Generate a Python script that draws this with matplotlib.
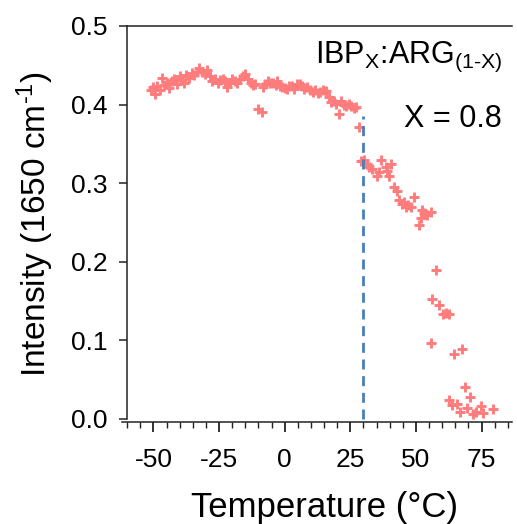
import matplotlib
matplotlib.use("Agg")
import matplotlib.pyplot as plt
from matplotlib.ticker import MultipleLocator, FixedLocator

plt.rcParams['font.family'] = ['Liberation Sans', 'DejaVu Sans']
plt.rcParams['mathtext.fontset'] = 'custom'
plt.rcParams['mathtext.rm'] = 'Liberation Sans'
plt.rcParams['mathtext.it'] = 'Liberation Sans:italic'

# Temperature (°C) and intensity readings
temperature = [
    -51, -50, -49.5, -48.5, -47.5, -46.6, -46, -45, -44, -43, -42, -41, -40, -39,
    -38.5, -37.5, -36.5, -35.5, -34.5, -33.5, -32.5, -31.5, -30.5, -29.5, -28.5,
    -27.6, -26.5, -25.5, -24.5, -23.5, -22.7, -22, -21, -20, -19, -18, -17, -16,
    -15, -14, -13, -12, -11.4, -10, -8.7, -8.3, -7.5, -6.4, -5.5, -4.5, -3.5, -3,
    -1.9, -1, 0, 0.7, 1.5, 2.6, 3.5, 4.5, 5.7, 6.5, 7.5, 8.3, 9.5, 10.6, 11.5,
    12.5, 13.3, 14.5, 15.9, 17, 17.8, 18.8, 19.7, 20.8, 21.6, 22.5, 23.5, 24.5,
    25.4, 26.3, 27.3, 28.4,
    29, 30.3, 31.4, 32.3, 33.3, 35.2, 36, 36.7, 38.6, 39, 39.8, 40.5, 41.7, 42.8,
    43.6, 44.7, 45.5, 46.2, 47, 48, 49.2, 51.1, 51.9, 52.3, 53.2, 54.2, 55.7,
    57.6, 56, 58.7, 60.2, 61.3, 62.5, 55.7, 64.4, 67.4, 68.6, 70.5, 62.5, 63.6,
    65.5, 66.7, 69.3, 71.6, 73, 74.6, 75.4, 79.5,
]
intensity = [
    0.418, 0.422, 0.414, 0.424, 0.419, 0.434, 0.425, 0.427, 0.421, 0.430, 0.432,
    0.426, 0.436, 0.431, 0.428, 0.437, 0.434, 0.440, 0.438, 0.441, 0.446, 0.442,
    0.439, 0.444, 0.436, 0.430, 0.432, 0.428, 0.431, 0.433, 0.430, 0.422, 0.427,
    0.432, 0.430, 0.428, 0.433, 0.436, 0.439, 0.432, 0.428, 0.425, 0.426, 0.394,
    0.390, 0.422, 0.426, 0.430, 0.428, 0.428, 0.425, 0.430, 0.424, 0.422, 0.421,
    0.420, 0.423, 0.424, 0.420, 0.426, 0.426, 0.423, 0.420, 0.422, 0.418, 0.416,
    0.419, 0.415, 0.416, 0.418, 0.417, 0.410, 0.403, 0.405, 0.401, 0.388, 0.404,
    0.400, 0.398, 0.401, 0.398, 0.396, 0.397, 0.372,
    0.328, 0.330, 0.324, 0.320, 0.318, 0.309, 0.314, 0.329, 0.321, 0.315, 0.309,
    0.324, 0.295, 0.290, 0.279, 0.273, 0.276, 0.269, 0.272, 0.270, 0.282, 0.247,
    0.256, 0.266, 0.262, 0.260, 0.263, 0.189, 0.152, 0.145, 0.134, 0.135, 0.134,
    0.096, 0.083, 0.089, 0.040, 0.028, 0.024, 0.018, 0.019, 0.009, 0.014, 0.006,
    0.009, 0.017, 0.008, 0.013,
]
transition_temp = 30
transition_top = 0.385
x_major = [-50, -25, 0, 25, 50, 75]
y_major = [0.0, 0.1, 0.2, 0.3, 0.4, 0.5]

fig = plt.figure(figsize=(5.17, 5.24), dpi=100)
ax = fig.add_axes([122/517, 1 - 422/524, 390/517, 396/524])

ax.plot(temperature, intensity, linestyle='none', marker='+', markersize=7.5,
        markeredgewidth=2.1, color='#FF7C7C')
ax.plot([transition_temp, transition_temp], [0, transition_top], color='#4A7EBB',
        linewidth=2.0, dashes=(3.6, 2.4))

ax.set_xlim(-62, 86.6)
ax.set_ylim(-0.004, 0.5)

ax.spines['right'].set_visible(False)
ax.spines['left'].set_position(('data', -60))
ax.spines['left'].set_bounds(0, 0.5)
ax.spines['top'].set_bounds(-60, 86.6)
for s in ['left', 'bottom', 'top']:
    ax.spines[s].set_linewidth(1.1)
    ax.spines[s].set_color('#222222')

ax.xaxis.set_major_locator(FixedLocator(x_major))
ax.xaxis.set_minor_locator(MultipleLocator(5))
ax.yaxis.set_major_locator(FixedLocator(y_major))
ax.set_xticklabels([str(v) for v in x_major])
ax.set_yticklabels([f"{v:.1f}" for v in y_major])
ax.tick_params(axis='x', which='major', direction='out', length=7, width=1.3,
               labelsize=19, pad=12, color='#222222')
ax.tick_params(axis='x', which='minor', direction='out', length=4.5, width=1.0,
               color='#222222')
ax.tick_params(axis='y', which='major', direction='out', length=6, width=1.1,
               labelsize=19, pad=8, color='#222222')

ax.set_xlabel('Temperature (°C)', fontsize=25, va='baseline')
ax.xaxis.set_label_coords(0.52, -95/396)
ax.set_ylabel(r'Intensity (1650 cm$^{\mathrm{\text{-}1}}$)', fontsize=24)
ax.yaxis.set_label_coords(-66/390, 0.5)

ax.text(502/517, 1 - 63/524, r'IBP$_{\mathrm{X}}$:ARG$_{\mathrm{(1\text{-}X)}}$',
        transform=fig.transFigure, ha='right', va='baseline', fontsize=22)
ax.text(502/517, 1 - 127/524, 'X = 0.8', transform=fig.transFigure,
        ha='right', va='baseline', fontsize=22)

fig.savefig('out.png', dpi=100)
